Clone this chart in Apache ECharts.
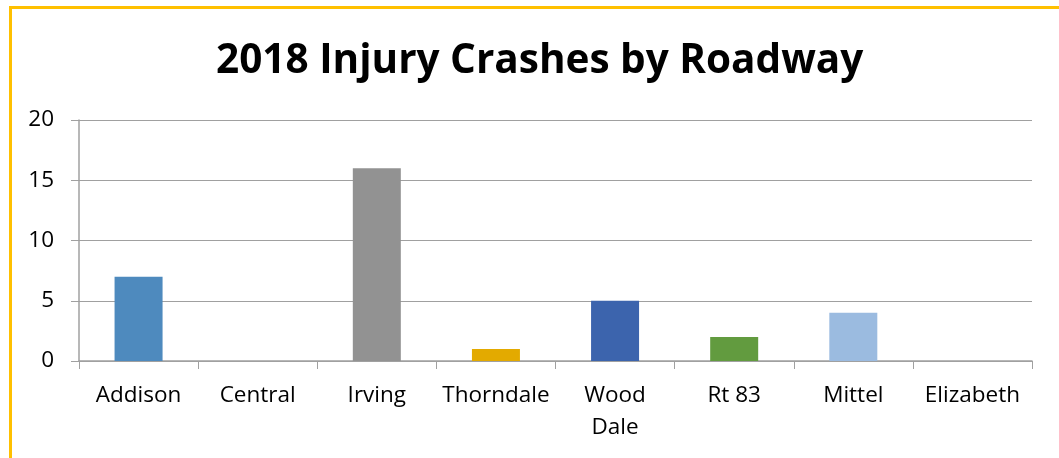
<!DOCTYPE html>
<html>
<head>
<meta charset="utf-8">
<script src="https://cdn.jsdelivr.net/npm/echarts@6/dist/echarts.min.js"></script>
<style>
  html, body { margin: 0; padding: 0; background: #fff; }
  #frame {
    position: absolute; left: 9px; top: 6px; width: 1050px; height: 452px;
    border-left: 3px solid #FFC000; border-top: 3px solid #FFC000;
  }
  #chart { position: absolute; left: 0; top: 0; width: 1059px; height: 458px; }
</style>
</head>
<body>
<div id="frame"></div>
<div id="chart"></div>
<script>
const categories = ['Addison', 'Central', 'Irving', 'Thorndale', 'Wood\nDale', 'Rt 83', 'Mittel', 'Elizabeth'];
const crashes = [7, 0, 16, 1, 5, 2, 4, 0];
const barColors = ['#4E8ABE', '#4E8ABE', '#929292', '#E3AA00', '#3C64AD', '#629B3F', '#9BBBE0', '#4E8ABE'];
const yTicks = { min: 0, max: 20, interval: 5 };

const font = 'Open Sans';
const chart = echarts.init(document.getElementById('chart'), null, { renderer: 'canvas' });

chart.setOption({
  animation: false,
  title: {
    text: '2018 Injury Crashes by Roadway',
    left: 216,
    top: 41,
    padding: 0,
    textStyle: { fontFamily: font, fontWeight: 'bold', fontSize: 40.5, color: '#000' }
  },
  grid: { left: 79, right: 27, top: 120, bottom: 97 },
  xAxis: {
    type: 'category',
    data: categories,
    axisLine: { lineStyle: { color: '#A0A0A0', width: 1.5 } },
    axisTick: { show: true, length: 8, lineStyle: { color: '#A0A0A0' } },
    axisLabel: { fontFamily: font, fontSize: 22.5, color: '#000', margin: 19, lineHeight: 32, interval: 0 }
  },
  yAxis: {
    type: 'value',
    min: yTicks.min, max: yTicks.max, interval: yTicks.interval,
    axisLine: { show: true, lineStyle: { color: '#A0A0A0', width: 1.5 } },
    axisTick: { show: true, length: 8, lineStyle: { color: '#A0A0A0' } },
    axisLabel: { fontFamily: font, fontSize: 22.5, color: '#000', margin: 25 },
    splitLine: { lineStyle: { color: '#A0A0A0', width: 1.2 } }
  },
  series: [{
    type: 'bar',
    data: crashes.map((v, i) => ({ value: v, itemStyle: { color: barColors[i] } })),
    barWidth: 48
  }]
});
</script>
</body>
</html>
